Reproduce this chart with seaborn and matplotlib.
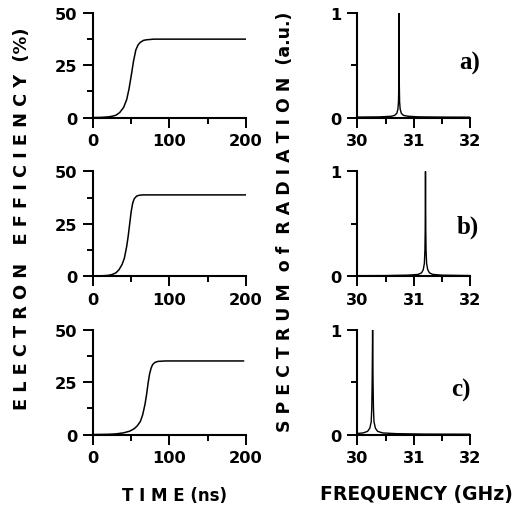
import matplotlib
matplotlib.use("Agg")
import matplotlib.pyplot as plt
from matplotlib.ticker import MultipleLocator
import seaborn as sns
import pandas as pd

# ---- data ----
time_a = [0, 10, 20, 25, 30, 35, 40, 44, 47, 50, 53, 56, 59, 62, 66, 70, 80, 100, 150, 200]
eff_a = [0, 0.05, 0.3, 0.6, 1.1, 2.4, 4.8, 8.5, 13.5, 20, 27, 32.3, 34.8, 36.0, 36.9, 37.2, 37.5, 37.5, 37.5, 37.5]

time_b = [0, 10, 20, 25, 30, 34, 38, 41, 44, 46, 48, 50, 52, 54, 57, 60, 65, 75, 100, 150, 200]
eff_b = [0, 0.05, 0.3, 0.7, 1.5, 3, 5.5, 8.5, 14, 19, 25, 31, 35, 37, 38.2, 38.6, 38.8, 38.8, 38.8, 38.8, 38.8]

time_c = [0, 20, 30, 40, 48, 54, 58, 62, 65, 68, 70, 72, 74, 76, 78, 81, 85, 95, 120, 150, 197]
eff_c = [0, 0.1, 0.3, 0.8, 1.6, 2.8, 4.2, 6.3, 9.5, 14.5, 19, 24.5, 29, 31.8, 33.5, 34.5, 35, 35.2, 35.2, 35.2, 35.2]

freq_a = [30.0, 30.4, 30.6, 30.66, 30.70, 30.72, 30.73, 30.735, 30.74, 30.745, 30.75, 30.76, 30.78, 30.82, 30.9, 31.1, 31.5, 32.0]
spec_a = [0.004, 0.006, 0.012, 0.02, 0.04, 0.08, 0.15, 0.3, 1.0, 0.3, 0.15, 0.08, 0.04, 0.02, 0.012, 0.006, 0.004, 0.003]

freq_b = [30.0, 30.5, 30.9, 31.08, 31.14, 31.17, 31.19, 31.20, 31.205, 31.21, 31.215, 31.22, 31.23, 31.25, 31.28, 31.34, 31.5, 32.0]
spec_b = [0.003, 0.004, 0.008, 0.015, 0.03, 0.06, 0.12, 0.25, 0.45, 1.0, 0.45, 0.25, 0.12, 0.06, 0.03, 0.015, 0.008, 0.004]

freq_c = [30.0, 30.1, 30.18, 30.22, 30.245, 30.255, 30.262, 30.27, 30.278, 30.285, 30.295, 30.32, 30.36, 30.45, 30.7, 31.2, 32.0]
spec_c = [0.01, 0.015, 0.03, 0.06, 0.12, 0.25, 0.5, 1.0, 0.5, 0.25, 0.12, 0.06, 0.03, 0.015, 0.008, 0.004, 0.003]

panel_labels = ["a)", "b)", "c)"]
time_ticks = [0, 100, 200]
eff_ticks = [0, 25, 50]
freq_ticks = [30, 31, 32]
spec_ticks = [0, 1]

sns.set_style("ticks")
plt.rcParams["font.family"] = ["DejaVu Sans"]
plt.rcParams["font.weight"] = "bold"
plt.rcParams["text.color"] = "black"
plt.rcParams["axes.labelcolor"] = "black"
plt.rcParams["xtick.color"] = "black"
plt.rcParams["ytick.color"] = "black"
plt.rcParams["axes.edgecolor"] = "black"

fig = plt.figure(figsize=(5.18, 5.06), dpi=100)

row_bottoms = [0.7658, 0.4526, 0.1393]
row_h = 0.2065
left_x, left_w = 0.1795, 0.2954
right_x, right_w = 0.690, 0.2172

left_data = [(time_a, eff_a), (time_b, eff_b), (time_c, eff_c)]
right_data = [(freq_a, spec_a), (freq_b, spec_b), (freq_c, spec_c)]
label_pos = [(0.927, 1 - 63 / 506), (0.925, 1 - 227 / 506), (0.908, 1 - 390 / 506)]


def style_axes(ax):
    for s in ["top", "right"]:
        ax.spines[s].set_visible(False)
    for s in ["left", "bottom"]:
        ax.spines[s].set_linewidth(1.5)
        ax.spines[s].set_color("black")
    ax.tick_params(which="major", direction="out", length=7.5, width=1.4,
                   labelsize=11.7, pad=4, colors="black", labelcolor="black")
    ax.tick_params(which="minor", direction="out", length=4, width=1.4, colors="black")
    for lab in ax.get_xticklabels() + ax.get_yticklabels():
        lab.set_fontweight("bold")
        lab.set_color("black")
    ax.set_xlabel("")
    ax.set_ylabel("")
    ax.grid(False)


for i in range(3):
    axl = fig.add_axes([left_x, row_bottoms[i], left_w, row_h])
    df = pd.DataFrame({"t": left_data[i][0], "e": left_data[i][1]})
    sns.lineplot(data=df, x="t", y="e", ax=axl, color="black", linewidth=1.1,
                 estimator=None, sort=False)
    axl.set_xlim(0, 200)
    axl.set_ylim(0, 50)
    axl.set_xticks(time_ticks)
    axl.set_yticks(eff_ticks)
    axl.xaxis.set_minor_locator(MultipleLocator(50))
    axl.yaxis.set_minor_locator(MultipleLocator(12.5))
    style_axes(axl)

    axr = fig.add_axes([right_x, row_bottoms[i], right_w, row_h])
    df2 = pd.DataFrame({"f": right_data[i][0], "s": right_data[i][1]})
    sns.lineplot(data=df2, x="f", y="s", ax=axr, color="black", linewidth=1.0,
                 estimator=None, sort=False)
    axr.set_xlim(30, 32)
    axr.set_ylim(0, 1)
    axr.set_xticks(freq_ticks)
    axr.set_yticks(spec_ticks)
    axr.xaxis.set_minor_locator(MultipleLocator(0.5))
    axr.yaxis.set_minor_locator(MultipleLocator(0.5))
    style_axes(axr)

    fig.text(label_pos[i][0], label_pos[i][1], panel_labels[i],
             family="Liberation Serif", fontweight="bold", fontsize=18,
             ha="right", va="center", color="black")

fig.text(174 / 518, 1 - 496 / 506, "T I M E (ns)", ha="center", va="center",
         fontsize=12, fontweight="bold", color="black")
fig.text(416 / 518, 1 - 495 / 506, "FREQUENCY (GHz)", ha="center", va="center",
         fontsize=13.5, fontweight="bold", color="black")
fig.text(22 / 518, 1 - 219 / 506, "E L E C T R O N   E F F I C I E N C Y  (%)",
         rotation=90, ha="center", va="center", fontsize=12.8, fontweight="bold",
         color="black")
fig.text(285 / 518, 1 - 222 / 506, "S P E C T R U M  o f  R A D I A T I O N  (a.u.)",
         rotation=90, ha="center", va="center", fontsize=12.5, fontweight="bold",
         color="black")

fig.savefig("out.png", dpi=100)
